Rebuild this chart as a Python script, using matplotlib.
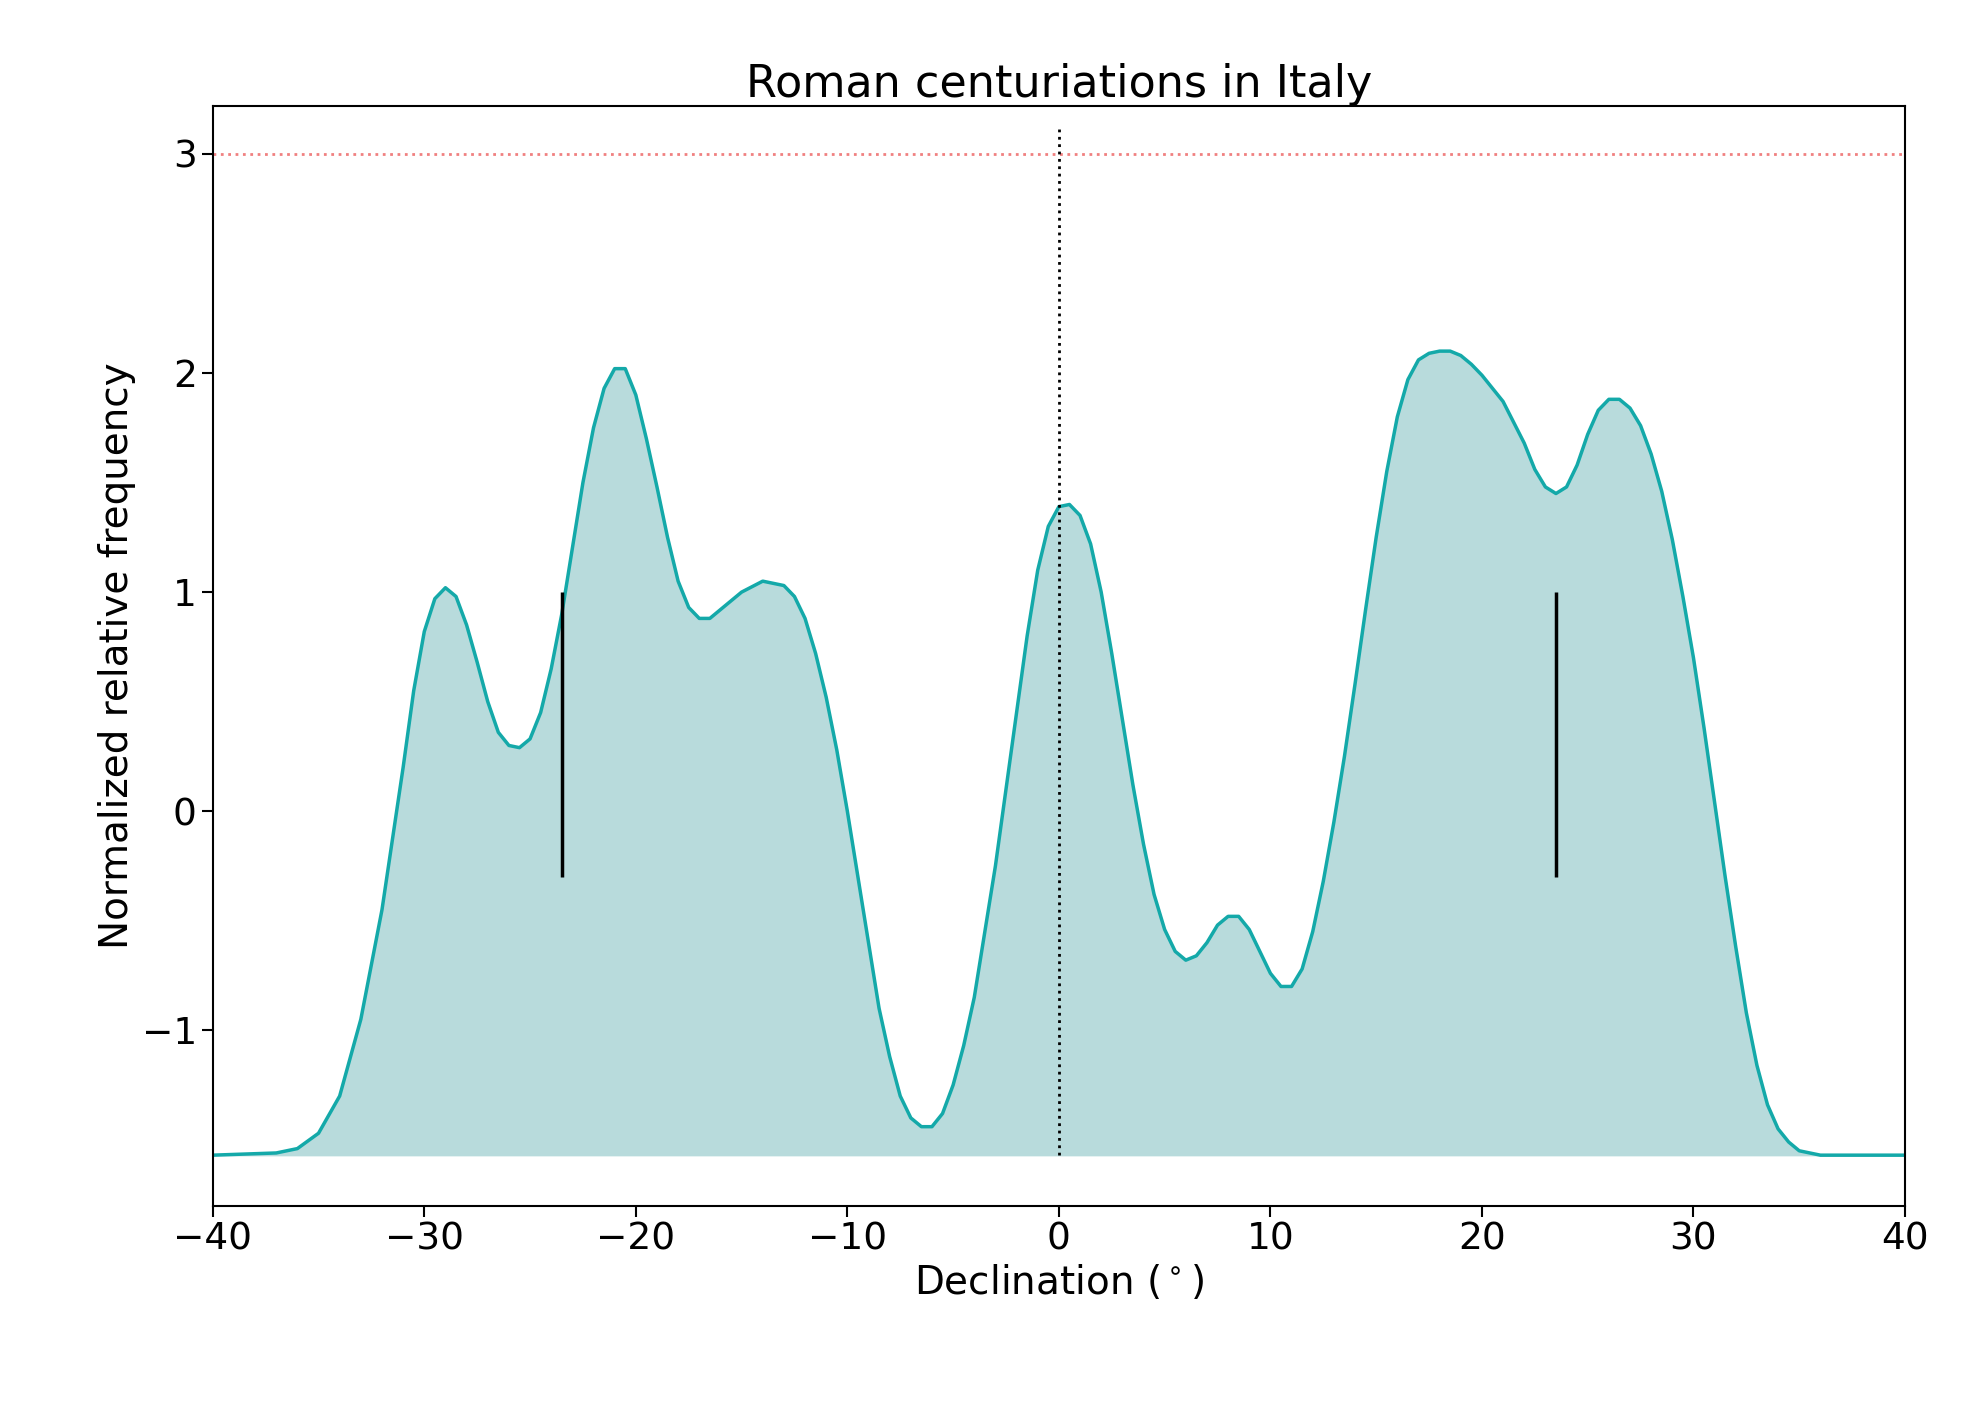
import matplotlib.pyplot as plt

# (declination in deg, normalized relative frequency)
curve = [
    (-40, -1.57), (-37, -1.56), (-36, -1.54), (-35, -1.47), (-34, -1.3), (-33, -0.95),
    (-32, -0.45), (-31, 0.2), (-30.5, 0.55), (-30, 0.82), (-29.5, 0.97), (-29, 1.02),
    (-28.5, 0.98), (-28, 0.85), (-27.5, 0.68), (-27, 0.5), (-26.5, 0.36), (-26, 0.3),
    (-25.5, 0.29), (-25, 0.33), (-24.5, 0.45), (-24, 0.65), (-23.5, 0.9), (-23, 1.2),
    (-22.5, 1.5), (-22, 1.75), (-21.5, 1.93), (-21, 2.02), (-20.5, 2.02), (-20, 1.9),
    (-19.5, 1.7), (-19, 1.48), (-18.5, 1.25), (-18, 1.05), (-17.5, 0.93), (-17, 0.88),
    (-16.5, 0.88), (-16, 0.92), (-15, 1.0), (-14, 1.05), (-13, 1.03), (-12.5, 0.98),
    (-12, 0.88), (-11.5, 0.72), (-11, 0.52), (-10.5, 0.28), (-10, 0.0), (-9.5, -0.3),
    (-9, -0.6), (-8.5, -0.9), (-8, -1.12), (-7.5, -1.3), (-7, -1.4), (-6.5, -1.44),
    (-6, -1.44), (-5.5, -1.38), (-5, -1.25), (-4.5, -1.07), (-4, -0.85), (-3.5, -0.55),
    (-3, -0.25), (-2.5, 0.1), (-2, 0.45), (-1.5, 0.8), (-1, 1.1), (-0.5, 1.3),
    (0, 1.39), (0.5, 1.4), (1, 1.35), (1.5, 1.22), (2, 1.0), (2.5, 0.72), (3, 0.42),
    (3.5, 0.12), (4, -0.15), (4.5, -0.38), (5, -0.54), (5.5, -0.64), (6, -0.68),
    (6.5, -0.66), (7, -0.6), (7.5, -0.52), (8, -0.48), (8.5, -0.48), (9, -0.54),
    (9.5, -0.64), (10, -0.74), (10.5, -0.8), (11, -0.8), (11.5, -0.72), (12, -0.55),
    (12.5, -0.32), (13, -0.05), (13.5, 0.25), (14, 0.58), (14.5, 0.92), (15, 1.25),
    (15.5, 1.55), (16, 1.8), (16.5, 1.97), (17, 2.06), (17.5, 2.09), (18, 2.1),
    (18.5, 2.1), (19, 2.08), (19.5, 2.04), (20, 1.99), (21, 1.87), (22, 1.68),
    (22.5, 1.56), (23, 1.48), (23.5, 1.45), (24, 1.48), (24.5, 1.58), (25, 1.72),
    (25.5, 1.83), (26, 1.88), (26.5, 1.88), (27, 1.84), (27.5, 1.76), (28, 1.63),
    (28.5, 1.46), (29, 1.24), (29.5, 0.98), (30, 0.7), (30.5, 0.38), (31, 0.04),
    (31.5, -0.3), (32, -0.62), (32.5, -0.92), (33, -1.16), (33.5, -1.34), (34, -1.45),
    (34.5, -1.51), (35, -1.55), (36, -1.57), (37, -1.57), (38, -1.57), (40, -1.57),
]
dec = [p[0] for p in curve]
freq = [p[1] for p in curve]
baseline = -1.57
solstices = [-23.5, 23.5]

fig, ax = plt.subplots(figsize=(19.7, 14.1), dpi=100)
fig.subplots_adjust(left=0.108, right=0.967, top=0.925, bottom=0.145)

ax.fill_between(dec, freq, baseline, color='#b8dbdc')
ax.plot(dec, freq, color='#14a9a9', lw=2.5)
ax.axhline(3, color='#f08080', ls=':', lw=2)
ax.vlines(0, baseline, 3.12, colors='black', linestyles=':', lw=2)
ax.vlines(solstices, -0.3, 1.0, colors='black', lw=2.5)

ax.set_xlim(-40, 40)
ax.set_ylim(-1.8, 3.22)
ax.set_xticks(range(-40, 41, 10))
ax.set_yticks(range(-1, 4))
ax.tick_params(labelsize=27, length=8, width=1.5)
for s in ax.spines.values():
    s.set_linewidth(1.5)

ax.set_xlabel('Declination ($^\\circ$)', fontsize=28)
ax.set_ylabel('Normalized relative frequency', fontsize=28)
ax.set_title('Roman centuriations in Italy', fontsize=32)

plt.savefig('out.png')
